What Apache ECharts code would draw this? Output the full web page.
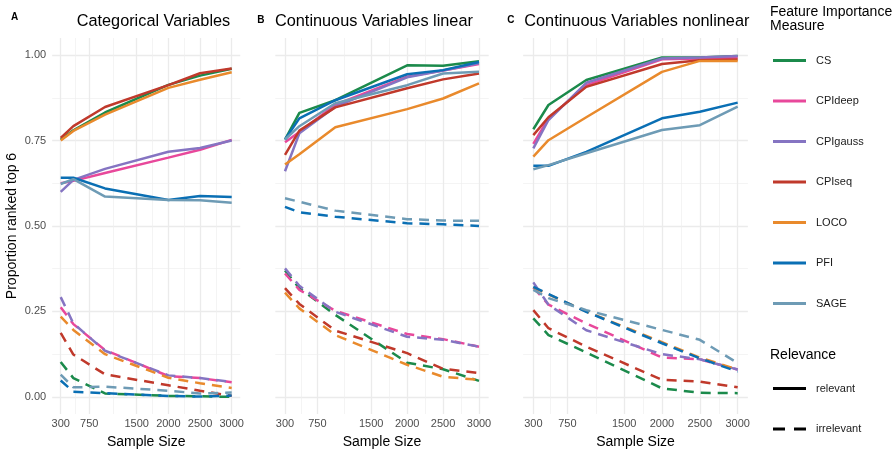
<!DOCTYPE html>
<html>
<head>
<meta charset="utf-8">
<script src="https://cdn.jsdelivr.net/npm/echarts@6/dist/echarts.min.js"></script>
<style>
html, body { margin: 0; padding: 0; background: #fff; }
#chart { width: 896px; height: 451px; }
</style>
</head>
<body>
<div id="chart"></div>
<script>
const sampleSizes = [300, 500, 1000, 2000, 2500, 3000];
const methods = ['CS', 'CPIdeep', 'CPIgauss', 'CPIseq', 'LOCO', 'PFI', 'SAGE'];
const methodColors = ['#1b8a4b', '#e8489b', '#8574c2', '#c0392b', '#e98a2c', '#0a6fb4', '#6e9bb5'];
const panelTitles = ['Categorical Variables', 'Continuous Variables linear', 'Continuous Variables nonlinear'];
const panelTags = ['A', 'B', 'C'];
const xTicks = [300, 750, 1500, 2000, 2500, 3000];
const xMinorTicks = [525, 1125, 1750, 2250, 2750];
const yTicks = [0, 0.25, 0.5, 0.75, 1];
const yMinorTicks = [0.125, 0.375, 0.625, 0.875];

// rows follow the order of methods
const catRelevant = [
  [0.752, 0.780, 0.832, 0.913, 0.940, 0.960],
  [0.625, 0.632, 0.655, 0.700, 0.723, 0.752],
  [0.600, 0.635, 0.667, 0.717, 0.728, 0.750],
  [0.758, 0.792, 0.848, 0.912, 0.947, 0.961],
  [0.750, 0.778, 0.826, 0.904, 0.928, 0.950],
  [0.641, 0.641, 0.610, 0.576, 0.588, 0.585],
  [0.623, 0.637, 0.586, 0.576, 0.575, 0.568]
];
const catIrrelevant = [
  [0.102, 0.055, 0.010, 0.003, 0.002, 0.000],
  [0.262, 0.213, 0.137, 0.061, 0.055, 0.043],
  [0.292, 0.215, 0.135, 0.063, 0.055, 0.044],
  [0.187, 0.124, 0.066, 0.034, 0.018, 0.003],
  [0.235, 0.196, 0.125, 0.056, 0.040, 0.026],
  [0.048, 0.015, 0.011, 0.003, 0.001, 0.004],
  [0.065, 0.028, 0.030, 0.018, 0.010, 0.013]
];
const linRelevant = [
  [0.753, 0.831, 0.868, 0.970, 0.969, 0.982],
  [0.745, 0.775, 0.855, 0.937, 0.955, 0.974],
  [0.660, 0.771, 0.849, 0.935, 0.955, 0.976],
  [0.708, 0.779, 0.847, 0.903, 0.929, 0.946],
  [0.680, 0.710, 0.789, 0.842, 0.873, 0.917],
  [0.753, 0.815, 0.868, 0.944, 0.956, 0.980],
  [0.753, 0.792, 0.859, 0.912, 0.946, 0.951]
];
const linIrrelevant = [
  [0.370, 0.318, 0.240, 0.100, 0.081, 0.047],
  [0.361, 0.313, 0.252, 0.184, 0.169, 0.147],
  [0.376, 0.325, 0.249, 0.176, 0.167, 0.147],
  [0.318, 0.272, 0.194, 0.128, 0.082, 0.070],
  [0.305, 0.259, 0.181, 0.094, 0.059, 0.050],
  [0.556, 0.540, 0.527, 0.508, 0.505, 0.500],
  [0.581, 0.571, 0.545, 0.520, 0.516, 0.515]
];
const nonRelevant = [
  [0.783, 0.854, 0.927, 0.993, 0.993, 0.997],
  [0.740, 0.815, 0.912, 0.988, 0.990, 0.993],
  [0.727, 0.810, 0.919, 0.990, 0.993, 0.997],
  [0.766, 0.818, 0.907, 0.974, 0.985, 0.987],
  [0.703, 0.751, 0.818, 0.951, 0.983, 0.983],
  [0.676, 0.676, 0.717, 0.815, 0.834, 0.861],
  [0.666, 0.678, 0.713, 0.781, 0.795, 0.849]
];
const nonIrrelevant = [
  [0.230, 0.181, 0.130, 0.025, 0.012, 0.011],
  [0.320, 0.270, 0.215, 0.115, 0.110, 0.080],
  [0.335, 0.270, 0.195, 0.125, 0.110, 0.080],
  [0.254, 0.201, 0.147, 0.050, 0.045, 0.028],
  [0.320, 0.300, 0.250, 0.160, 0.115, 0.080],
  [0.322, 0.301, 0.249, 0.157, 0.113, 0.074],
  [0.313, 0.289, 0.254, 0.196, 0.167, 0.099]
];

const panels = [
  { relevant: catRelevant, irrelevant: catIrrelevant },
  { relevant: linRelevant, irrelevant: linIrrelevant },
  { relevant: nonRelevant, irrelevant: nonIrrelevant }
];

const FONT = 'Liberation Sans, Arial, Helvetica, sans-serif';
const gridBox = [
  { left: 52.15, width: 188.1 },
  { left: 275.3, width: 213.4 },
  { left: 523.1, width: 224.8 }
];
const gridTop = 38, gridHeight = 376;
const xMin = 165, xMax = 3135;
const yMin = -0.05, yMax = 1.05;
const majorGrid = { color: '#ebebeb', width: 1.3 };
const minorGrid = { color: '#efefef', width: 0.7 };
const dashType = [10, 7];
const lineIcon = 'path://M0,0H33V3H0Z';
const dashIcon = 'path://M0,0H12V3H0ZM21,0H33V3H21Z';

let grids = [], xAxes = [], yAxes = [], series = [], graphics = [];

gridBox.forEach((g, p) => {
  // outerBoundsMode none: keep the grid where it is put, do not shrink it for labels
  grids.push({ left: g.left, width: g.width, top: gridTop, height: gridHeight, outerBoundsMode: 'none' });
});

// major axes: 0..2, minor (gridline only) axes: 3..5
gridBox.forEach((g, p) => {
  xAxes.push({
    type: 'value', gridIndex: p, min: xMin, max: xMax,
    name: 'Sample Size', nameLocation: 'middle', nameGap: 21,
    nameTextStyle: { fontSize: 14, color: '#000', fontFamily: FONT },
    axisLine: { show: false },
    axisTick: { show: false, customValues: xTicks },
    axisLabel: {
      customValues: xTicks, color: '#4d4d4d', fontSize: 11, margin: 4.5, fontFamily: FONT,
      formatter: v => String(v)
    },
    splitLine: { show: true, lineStyle: majorGrid }
  });
  yAxes.push({
    type: 'value', gridIndex: p, min: yMin, max: yMax,
    name: p === 0 ? 'Proportion ranked top 6' : '',
    nameLocation: 'middle', nameGap: 33,
    nameTextStyle: { fontSize: 14, color: '#000', fontFamily: FONT },
    axisLine: { show: false },
    axisTick: { show: false, customValues: yTicks },
    axisLabel: {
      show: p === 0, customValues: yTicks, color: '#4d4d4d', fontSize: 11, margin: 6, fontFamily: FONT,
      formatter: v => v.toFixed(2)
    },
    splitLine: { show: true, lineStyle: majorGrid }
  });
});
gridBox.forEach((g, p) => {
  xAxes.push({
    type: 'value', gridIndex: p, min: xMin, max: xMax, position: 'bottom',
    axisLine: { show: false }, axisLabel: { show: false },
    axisTick: { show: false, customValues: xMinorTicks },
    splitLine: { show: true, lineStyle: minorGrid }
  });
  yAxes.push({
    type: 'value', gridIndex: p, min: yMin, max: yMax, position: 'left',
    axisLine: { show: false }, axisLabel: { show: false },
    axisTick: { show: false, customValues: yMinorTicks },
    splitLine: { show: true, lineStyle: minorGrid }
  });
});

panels.forEach((panel, p) => {
  methods.forEach((m, k) => {
    [['relevant', 'solid'], ['irrelevant', dashType]].forEach(([rel, type]) => {
      series.push({
        name: m, type: 'line', xAxisIndex: p, yAxisIndex: p,
        data: sampleSizes.map((s, i) => [s, panel[rel][k][i]]),
        symbol: 'none', color: methodColors[k], silent: true,
        lineStyle: { color: methodColors[k], width: 2.5, type: type, cap: 'butt' }
      });
    });
  });
});
// dummy series only used by the relevance legend
series.push({ name: 'relevant', type: 'line', data: [], color: '#000', symbol: 'none', lineStyle: { color: '#000' } });
series.push({ name: 'irrelevant', type: 'line', data: [], color: '#000', symbol: 'none', lineStyle: { color: '#000', type: dashType } });

const tagPos = [[11, 17.3], [257.3, 20.5], [507.3, 20.5]];
const titleLeft = [76.7, 275, 524.3];
panelTags.forEach((t, p) => {
  graphics.push({
    type: 'text', x: tagPos[p][0], y: tagPos[p][1],
    style: { text: t, fill: '#000', font: 'bold 10px ' + FONT, verticalAlign: 'middle', align: 'left' }
  });
  graphics.push({
    type: 'text', x: titleLeft[p], y: 22,
    style: { text: panelTitles[p], fill: '#000', font: '16.3px ' + FONT, verticalAlign: 'middle', align: 'left' }
  });
});
graphics.push({
  type: 'text', x: 770, y: 12,
  style: { text: 'Feature Importance', fill: '#000', font: '14px ' + FONT, verticalAlign: 'middle' }
});
graphics.push({
  type: 'text', x: 770, y: 26.5,
  style: { text: 'Measure', fill: '#000', font: '14px ' + FONT, verticalAlign: 'middle' }
});
graphics.push({
  type: 'text', x: 770, y: 355,
  style: { text: 'Relevance', fill: '#000', font: '14px ' + FONT, verticalAlign: 'middle' }
});

const legendText = { fontSize: 11, color: '#1a1a1a', fontFamily: FONT, padding: [0, 0, 0, 5] };

const option = {
  animation: false,
  textStyle: { fontFamily: FONT },
  grid: grids,
  xAxis: xAxes,
  yAxis: yAxes,
  legend: [
    {
      data: methods.map(m => ({ name: m, icon: lineIcon })),
      orient: 'vertical', left: 773, top: 55, padding: 0,
      itemWidth: 33, itemHeight: 14, itemGap: 29.5,
      selectedMode: false, textStyle: legendText
    },
    {
      data: [{ name: 'relevant', icon: lineIcon }, { name: 'irrelevant', icon: dashIcon }],
      orient: 'vertical', left: 773, top: 383, padding: 0,
      itemWidth: 33, itemHeight: 14, itemGap: 29.5,
      selectedMode: false, textStyle: legendText
    }
  ],
  graphic: graphics,
  series: series
};

const chart = echarts.init(document.getElementById('chart'));
chart.setOption(option);
</script>
</body>
</html>
